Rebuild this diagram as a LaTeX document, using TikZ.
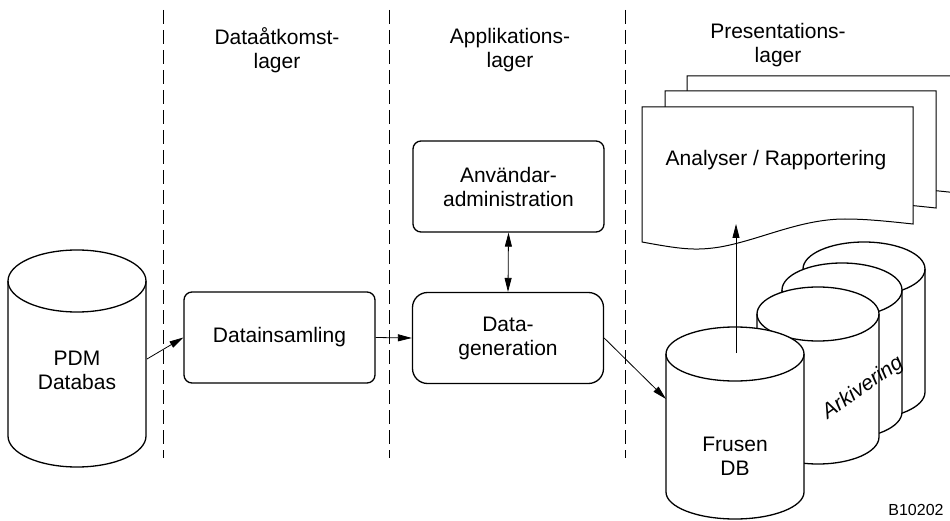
\documentclass[tikz,border=0pt]{standalone}
\usepackage{fontspec}
\setmainfont{Liberation Sans}
\usetikzlibrary{arrows.meta}
\newcommand\mycyl[5]{%
  \draw[cyl] (#1-#2,#3) -- (#1-#2,#4) arc[start angle=180,end angle=360,x radius=#2pt,y radius=#5pt]
    -- (#1+#2,#3) arc[start angle=0,end angle=180,x radius=#2pt,y radius=#5pt] -- cycle;
  \draw[cyl,fill=none] (#1-#2,#3) arc[start angle=180,end angle=360,x radius=#2pt,y radius=#5pt];}
\newcommand\mydoc{%
  \draw[doc] (642,107) -- (913,107) -- (913,224)
    .. controls (885,221) and (865,219) .. (845,219)
    .. controls (800,219) and (760,240) .. (720,247)
    .. controls (695,251) and (680,249) .. (642,242) -- cycle;}
\begin{document}
\begin{tikzpicture}[x=1pt,y=-1pt,
  txt/.style={font=\fontsize{21}{24}\selectfont, align=center, inner sep=0pt},
  box/.style={draw, line width=1.3pt, rounded corners=8pt, minimum width=191pt, minimum height=91pt, inner sep=0pt, txt},
  conn/.style={line width=0.8pt, -{Triangle[length=14pt,width=7pt]}},
  biconn/.style={line width=0.8pt, {Triangle[length=14pt,width=7pt]}-{Triangle[length=14pt,width=7pt]}},
  layer/.style={line width=0.8pt, dash pattern=on 14pt off 6pt},
  cyl/.style={line width=1.3pt, fill=white},
  doc/.style={line width=1pt, fill=white}
]
\useasboundingbox (0,0) rectangle (950,521);
\begin{scope}
\clip (0,0) rectangle (950,521);
% layer separators
\coordinate (d1t) at (163,10); \coordinate (d1b) at (163,458);
\coordinate (d2t) at (389,10); \coordinate (d2b) at (389,458);
\coordinate (d3t) at (625,10); \coordinate (d3b) at (625,458);
\draw[layer] (d1t) -- (d1b);
\draw[layer] (d2t) -- (d2b);
\draw[layer] (d3t) -- (d3b);
% layer titles
\node[txt] (t1) at (277,50) {Dataåtkomst-\\lager};
\node[txt] (t2) at (510,50) {Applikations-\\lager};
\node[txt] (t3) at (778,45) {Presentations-\\lager};
% documents stack
\begin{scope}[shift={(45,-31)}]\mydoc\end{scope}
\begin{scope}[shift={(23,-16)}]\mydoc\end{scope}
\mydoc
\node[txt] (ana) at (776,160) {Analyser / Rapportering};
% archive cylinders
\mycyl{864}{61}{269}{392}{27}
\mycyl{842}{60}{290}{412}{27}
\mycyl{818}{61}{314}{437}{27}
\node[txt, font=\fontsize{21}{24}\selectfont\itshape, rotate=35] (ark) at (863,388) {Arkivering};
\mycyl{735}{69}{354}{492}{27}
\node[txt] (fdb) at (735,456) {Frusen\\DB};
% PDM database
\mycyl{77}{69}{281}{436}{31}
\node[txt] (pdm) at (77,370) {PDM\\Databas};
% boxes
\node[box] (dins) at (279.5,337.5) {Datainsamling};
\node[box, rounded corners=15pt] (dgen) at (508,338) {Data-\\generation};
\node[box] (adm) at (508.5,186.5) {Användar-\\administration};
% connectors
\coordinate (pdmR) at (147,359);
\coordinate (fdbL) at (666,399);
\coordinate (fdbT) at (736,353);
\coordinate (anaIn) at (736,224);
\draw[conn] (pdmR) -- (dins.west);
\draw[conn] (dins.east) -- (dgen.west);
\draw[biconn] (adm.south) -- (dgen.north);
\draw[conn] (dgen.east) -- (fdbL);
\draw[conn] (fdbT) -- (anaIn);
\node[font=\fontsize{16}{18}\selectfont, inner sep=0pt] (code) at (916,510) {B10202};
\end{scope}
\end{tikzpicture}
\end{document}
